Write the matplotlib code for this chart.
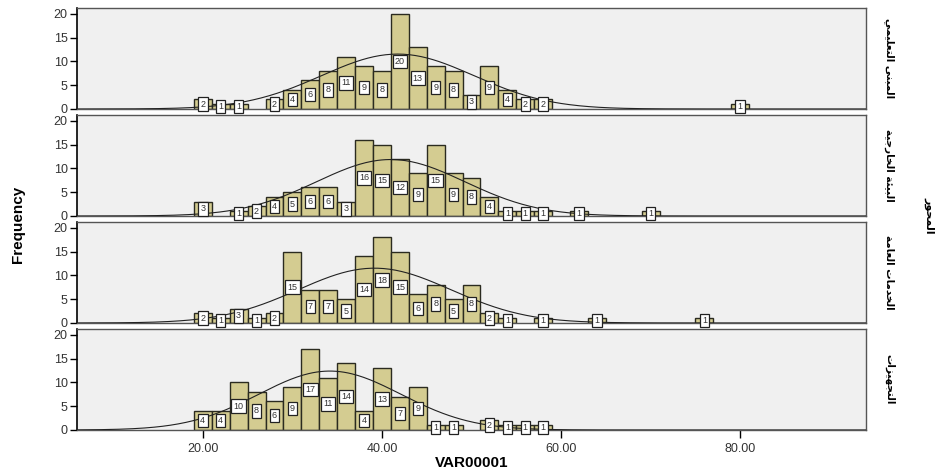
import numpy as np
import matplotlib
matplotlib.use("Agg")
import matplotlib.pyplot as plt

# bin centres (width 2) and counts, one list per panel
centres_1 = [20, 22, 24, 28, 30, 32, 34, 36, 38, 40, 42, 44, 46, 48, 50, 52, 54, 56, 58, 80]
counts_1 = [2, 1, 1, 2, 4, 6, 8, 11, 9, 8, 20, 13, 9, 8, 3, 9, 4, 2, 2, 1]

centres_2 = [20, 24, 26, 28, 30, 32, 34, 36, 38, 40, 42, 44, 46, 48, 50, 52, 54, 56, 58, 62, 70]
counts_2 = [3, 1, 2, 4, 5, 6, 6, 3, 16, 15, 12, 9, 15, 9, 8, 4, 1, 1, 1, 1, 1]

centres_3 = [20, 22, 24, 26, 28, 30, 32, 34, 36, 38, 40, 42, 44, 46, 48, 50, 52, 54, 58, 64, 76]
counts_3 = [2, 1, 3, 1, 2, 15, 7, 7, 5, 14, 18, 15, 6, 8, 5, 8, 2, 1, 1, 1, 1]

centres_4 = [20, 22, 24, 26, 28, 30, 32, 34, 36, 38, 40, 42, 44, 46, 48, 52, 54, 56, 58]
counts_4 = [4, 4, 10, 8, 6, 9, 17, 11, 14, 4, 13, 7, 9, 1, 1, 2, 1, 1, 1]

row_names = ["المبنى التعليمي", "البيئة الخارجية", "الخدمات العامة", "التجهيزات"]
panel_title = "المحور"
x_ticks = [20, 40, 60, 80]
y_ticks = [0, 5, 10, 15, 20]
bin_width = 2

# Arabic presentation forms: isolated, final, initial, medial
FORMS = {
	"ئ": (0xFE89, 0xFE8A, 0xFE8B, 0xFE8C),
	"ا": (0xFE8D, 0xFE8E, None, None),
	"ب": (0xFE8F, 0xFE90, 0xFE91, 0xFE92),
	"ة": (0xFE93, 0xFE94, None, None),
	"ت": (0xFE95, 0xFE96, 0xFE97, 0xFE98),
	"ج": (0xFE9D, 0xFE9E, 0xFE9F, 0xFEA0),
	"ح": (0xFEA1, 0xFEA2, 0xFEA3, 0xFEA4),
	"خ": (0xFEA5, 0xFEA6, 0xFEA7, 0xFEA8),
	"د": (0xFEA9, 0xFEAA, None, None),
	"ر": (0xFEAD, 0xFEAE, None, None),
	"ز": (0xFEAF, 0xFEB0, None, None),
	"ع": (0xFEC9, 0xFECA, 0xFECB, 0xFECC),
	"ل": (0xFEDD, 0xFEDE, 0xFEDF, 0xFEE0),
	"م": (0xFEE1, 0xFEE2, 0xFEE3, 0xFEE4),
	"ن": (0xFEE5, 0xFEE6, 0xFEE7, 0xFEE8),
	"ه": (0xFEE9, 0xFEEA, 0xFEEB, 0xFEEC),
	"و": (0xFEED, 0xFEEE, None, None),
	"ى": (0xFEEF, 0xFEF0, None, None),
	"ي": (0xFEF1, 0xFEF2, 0xFEF3, 0xFEF4),
}


def shape(text):
	"""join the Arabic letters and put them in visual (left to right) order"""
	out = []
	for i, ch in enumerate(text):
		f = FORMS.get(ch)
		if f is None:
			out.append(ch)
			continue
		prev = FORMS.get(text[i - 1]) if i > 0 else None
		nxt = FORMS.get(text[i + 1]) if i + 1 < len(text) else None
		jp = prev is not None and prev[2] is not None
		jn = f[2] is not None and nxt is not None
		idx = (3 if jp else 2) if jn else (1 if jp else 0)
		out.append(chr(f[idx]))
	return "".join(reversed(out))


plt.rcParams["font.family"] = ["Liberation Sans", "DejaVu Sans"]

panels = [(centres_1, counts_1), (centres_2, counts_2), (centres_3, counts_3), (centres_4, counts_4)]

fig, axes = plt.subplots(4, 1, figsize=(9.44, 4.73), dpi=100, sharex=True)
fig.subplots_adjust(left=0.082, right=0.917, top=0.983, bottom=0.091, hspace=0.06)

xs = np.linspace(6, 94, 400)
for ax, (centres, counts), name in zip(axes, panels, row_names):
	c = np.array(centres, dtype=float)
	n = np.array(counts, dtype=float)
	ax.set_facecolor("#f0f0f0")
	ax.bar(c, n, width=bin_width, color="#d4cc91", edgecolor="#2b2b20", linewidth=1.0, zorder=2)

	# normal curve from the panel's own mean and sd
	total = n.sum()
	mu = (c * n).sum() / total
	sd = np.sqrt(((c - mu) ** 2 * n).sum() / (total - 1))
	ys = total * bin_width / (sd * np.sqrt(2 * np.pi)) * np.exp(-0.5 * ((xs - mu) / sd) ** 2)
	ax.plot(xs, ys, color="#222222", lw=0.8, zorder=3)

	for xv, yv in zip(centres, counts):
		ax.text(xv, yv / 2, str(yv), ha="center", va="center", fontsize=6.5, color="#333333", zorder=4,
				bbox=dict(boxstyle="square,pad=0.25", fc="white", ec="#222222", lw=0.9))

	ax.set_xlim(6, 94)
	ax.set_ylim(0, 21.2)
	ax.set_yticks(y_ticks)
	ax.tick_params(axis="y", direction="out", length=5, width=1, labelsize=9, labelcolor="#333333", pad=2)
	for s in ["top", "right", "bottom"]:
		ax.spines[s].set_color("#555555")
		ax.spines[s].set_linewidth(1.0)
	ax.spines["left"].set_color("black")
	ax.spines["left"].set_linewidth(1.2)
	ax.text(1.03, 0.5, shape(name), transform=ax.transAxes, rotation=270, ha="center", va="center",
			fontsize=7.5, fontweight="bold", family="DejaVu Sans")

axes[-1].set_xticks(x_ticks)
axes[-1].set_xticklabels(["%.2f" % v for v in x_ticks])
axes[-1].tick_params(axis="x", direction="out", length=6, width=1, labelsize=9, labelcolor="#333333")
for ax in axes[:-1]:
	ax.tick_params(axis="x", length=0)

fig.text(0.5, 0.022, "VAR00001", ha="center", va="center", fontsize=11, fontweight="bold")
fig.text(0.019, 0.525, "Frequency", ha="center", va="center", rotation=90, fontsize=11, fontweight="bold")
fig.text(0.985, 0.545, shape(panel_title), ha="center", va="center", rotation=270, fontsize=8,
		 fontweight="bold", family="DejaVu Sans")

fig.savefig("out.png", dpi=100)
